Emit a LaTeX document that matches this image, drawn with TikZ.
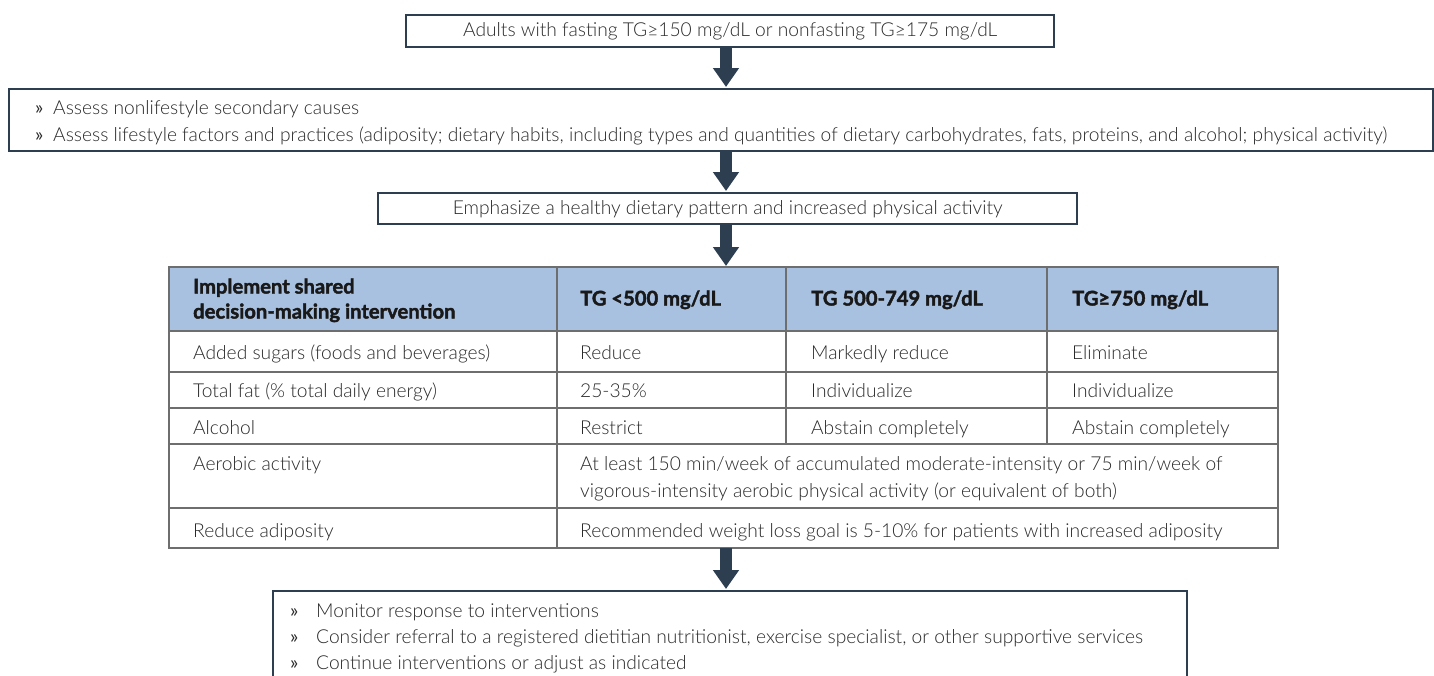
\documentclass[tikz,border=0pt]{standalone}
\usepackage{fontspec}
\IfFontExistsTF{Lato Light}{\setmainfont{Lato Light}[BoldFont=Lato Bold]}{\setmainfont{Lato}}
\newfontfamily\heavyfont{Lato}[UprightFont=*-Bold,UprightFeatures={FakeBold=2}]
\newfontfamily\markfont{Lato}
\usetikzlibrary{arrows.meta}
\definecolor{frame}{HTML}{2C3E50}
\definecolor{ink}{HTML}{2A2A2A}
\definecolor{headfill}{HTML}{A9C1E0}
\definecolor{rule}{HTML}{6E6E6E}
\begin{document}
\begin{tikzpicture}[x=1pt,y=-1pt,
  box/.style={draw=frame,line width=2.4pt,fill=white},
  txt/.style={inner sep=0pt,text=ink,font=\fontsize{19.2}{22}\selectfont,
    text height=0.72em,text depth=0.22em,yshift=-3pt},
  bulletmark/.style={txt,font=\fontsize{19.2}{22}\selectfont\markfont},
  htxt/.style={txt,font=\fontsize{20.2}{22}\selectfont\heavyfont,text=black!90},
  flow/.style={draw=frame,line width=12pt,-{Triangle[width=25pt,length=19pt]},shorten >=1pt},
  grid/.style={draw=rule,line width=1.1pt}]
\clip (0,0) rectangle (1434,675);
\fill[white] (0,0) rectangle (1434,675);

% step boxes
\node[box,minimum width=648pt,minimum height=32pt,anchor=north west] (b1) at (405,14) {};
\node[txt] (t1) at (b1.center) {Adults with fasting TG≥150 mg/dL or nonfasting TG≥175 mg/dL};

\node[box,minimum width=1424pt,minimum height=62pt,anchor=north west] (b2) at (8,88) {};
\node[bulletmark,anchor=west] (b2m1) at (35,109) {»};
\node[txt,anchor=west] (b2l1) at (53,109) {Assess nonlifestyle secondary causes};
\node[bulletmark,anchor=west] (b2m2) at (35,136) {»};
\node[txt,anchor=west] (b2l2) at (53,136) {Assess lifestyle factors and practices (adiposity; dietary habits, including types and quantities of dietary carbohydrates, fats, proteins, and alcohol; physical activity)};

\node[box,minimum width=699pt,minimum height=31pt,anchor=north west] (b3) at (377,192) {};
\node[txt] (t3) at (b3.center) {Emphasize a healthy dietary pattern and increased physical activity};

% intervention table
\coordinate (tabtop) at (726,267);
\coordinate (tabbot) at (726,548);
\fill[headfill] (169,267) rectangle (1278,331);
\draw[grid] (169,331) -- (1278,331);
\draw[grid] (169,372) -- (1278,372);
\draw[grid] (169,408) -- (1278,408);
\draw[grid] (169,444) -- (1278,444);
\draw[grid] (169,508) -- (1278,508);
\draw[grid] (557,267) -- (557,548);
\draw[grid] (786,267) -- (786,444);
\draw[grid] (1047,267) -- (1047,444);
\draw[grid] (169,267) rectangle (1278,548);

\node[htxt,anchor=west] (h1a) at (193,288) {Implement shared};
\node[htxt,anchor=west] (h1b) at (193,313) {decision-making intervention};
\node[htxt,anchor=west] (h2) at (580,300) {TG <500 mg/dL};
\node[htxt,anchor=west] (h3) at (811,300) {TG 500-749 mg/dL};
\node[htxt,anchor=west] (h4) at (1072,300) {TG≥750 mg/dL};

\node[txt,anchor=west] (r1a) at (193,354) {Added sugars (foods and beverages)};
\node[txt,anchor=west] (r1b) at (580,354) {Reduce};
\node[txt,anchor=west] (r1c) at (811,354) {Markedly reduce};
\node[txt,anchor=west] (r1d) at (1072,354) {Eliminate};

\node[txt,anchor=west] (r2a) at (193,392) {Total fat (\% total daily energy)};
\node[txt,anchor=west] (r2b) at (580,392) {25-35\%};
\node[txt,anchor=west] (r2c) at (811,392) {Individualize};
\node[txt,anchor=west] (r2d) at (1072,392) {Individualize};

\node[txt,anchor=west] (r3a) at (193,429) {Alcohol};
\node[txt,anchor=west] (r3b) at (580,429) {Restrict};
\node[txt,anchor=west] (r3c) at (811,429) {Abstain completely};
\node[txt,anchor=west] (r3d) at (1072,429) {Abstain completely};

\node[txt,anchor=west] (r4a) at (193,465) {Aerobic activity};
\node[txt,anchor=west] (r4b) at (580,465) {At least 150 min/week of accumulated moderate-intensity or 75 min/week of};
\node[txt,anchor=west] (r4c) at (580,492) {vigorous-intensity aerobic physical activity (or equivalent of both)};

\node[txt,anchor=west] (r5a) at (193,532) {Reduce adiposity};
\node[txt,anchor=west] (r5b) at (580,532) {Recommended weight loss goal is 5-10\% for patients with increased adiposity};

% follow-up box
\node[box,minimum width=914pt,minimum height=110pt,anchor=north west] (b5) at (272,590) {};
\node[bulletmark,anchor=west] (b5m1) at (290,612) {»};
\node[txt,anchor=west] (b5l1) at (316,612) {Monitor response to interventions};
\node[bulletmark,anchor=west] (b5m2) at (290,638) {»};
\node[txt,anchor=west] (b5l2) at (316,638) {Consider referral to a registered dietitian nutritionist, exercise specialist, or other supportive services};
\node[bulletmark,anchor=west] (b5m3) at (290,664) {»};
\node[txt,anchor=west] (b5l3) at (316,664) {Continue interventions or adjust as indicated};

% flow arrows
\draw[flow] (b1.south -| 726,0) -- (b2.north -| 726,0);
\draw[flow] (b2.south -| 726,0) -- (b3.north -| 726,0);
\draw[flow] (b3.south -| 726,0) -- (tabtop);
\draw[flow] (tabbot) -- (b5.north -| 726,0);
\end{tikzpicture}
\end{document}
